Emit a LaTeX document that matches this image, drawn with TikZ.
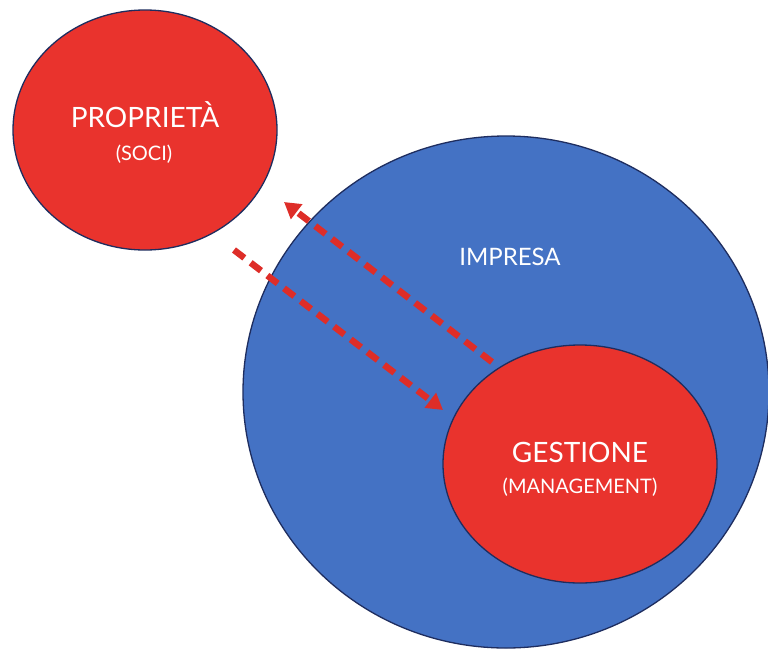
\documentclass[tikz,border=0pt]{standalone}
\usepackage{fontspec}
\setmainfont{Lato}
\usetikzlibrary{shapes.geometric,arrows.meta}
\definecolor{redfill}{RGB}{233,51,45}
\definecolor{bluefill}{RGB}{68,114,196}
\definecolor{rimblue}{RGB}{30,45,95}
\definecolor{arrowred}{RGB}{222,45,40}
\tikzset{
  blob/.style={ellipse, draw=rimblue, line width=1.3pt, inner sep=0pt},
  title/.style={text=white, anchor=base, inner sep=0pt, font=\fontsize{28}{30}\selectfont},
  subtitle/.style={text=white, anchor=base, inner sep=0pt, font=\fontsize{20}{22}\selectfont},
  flow/.style={arrowred, line width=6.5pt, dash pattern=on 13pt off 8pt,
    -{Triangle[length=16pt,width=18pt]}}
}
\begin{document}
\begin{tikzpicture}[x=1pt,y=-1pt]
\useasboundingbox (0,0) rectangle (768,648);
\clip (0,0) rectangle (768,648);
\fill[white] (0,0) rectangle (768,648);

% the firm, with management inside it
\node[blob, fill=bluefill, minimum width=526pt, minimum height=512pt] (impresa) at (506,392) {};
\node[text=white, anchor=base, inner sep=0pt, font=\fontsize{24}{26}\selectfont] (impresalbl) at (510,265) {IMPRESA};

\node[blob, fill=redfill, minimum width=274pt, minimum height=238pt] (gestione) at (580,464) {};
\node[title] (gestionelbl) at (580,462) {GESTIONE};
\node[subtitle] (managementlbl) at (580,493) {(MANAGEMENT)};

% ownership
\node[blob, fill=redfill, minimum width=264pt, minimum height=240pt] (proprieta) at (145,130) {};
\node[title] (proprietalbl) at (145,127) {PROPRIETÀ};
\node[subtitle] (socilbl) at (144,160) {(SOCI)};

% flows between ownership and management
\coordinate (upstart) at (492,362);
\coordinate (upend) at (284,202);
\coordinate (downstart) at (234,250);
\coordinate (downend) at (443,410);
\draw[flow] (upstart) -- (upend);
\draw[flow] (downstart) -- (downend);
\end{tikzpicture}
\end{document}
